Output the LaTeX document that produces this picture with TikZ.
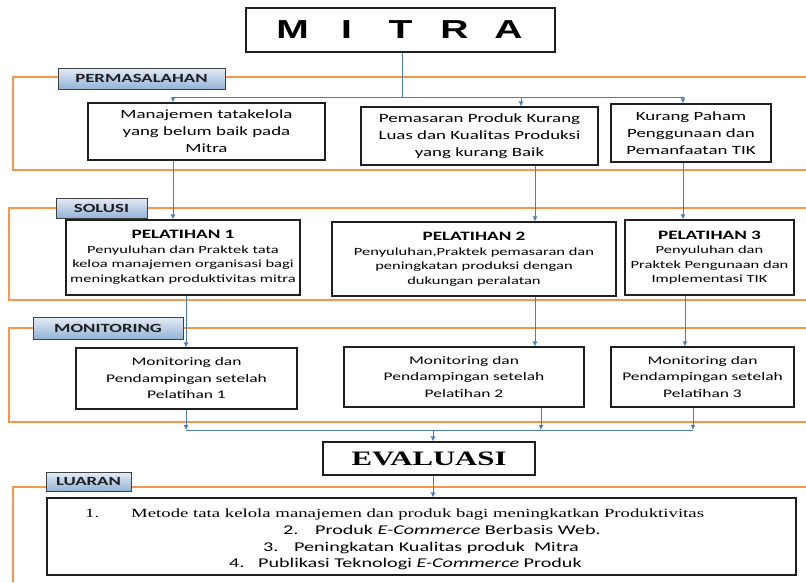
\documentclass[tikz,border=0pt]{standalone}
\usepackage{fontspec}
\setmainfont{Carlito}[FakeStretch=1.5]
\newfontfamily\serifw{Liberation Serif}[FakeStretch=1.5]
\newfontfamily\sansw{Liberation Sans}[FakeStretch=1.5]
\usetikzlibrary{arrows.meta,shadows}
\definecolor{orng}{HTML}{F79646}
\definecolor{bl}{HTML}{4A7EBB}
\definecolor{bx}{HTML}{1F1F1F}
\definecolor{lbtop}{HTML}{E4ECF6}
\definecolor{lbbot}{HTML}{94B2D6}
\begin{document}
\begin{tikzpicture}[x=1pt,y=-1pt,
  frame/.style={draw=orng,line width=1.2pt},
  box/.style={draw=bx,line width=1.2pt,fill=white,inner sep=0pt,align=center},
  lab/.style={draw=bx!85,line width=0.9pt,top color=lbtop,bottom color=lbbot,inner sep=0pt,
    font=\bfseries\fontsize{12.5}{14}\selectfont,text=bx,
    drop shadow={shadow xshift=1.3pt,shadow yshift=-1.3pt,opacity=0.4,fill=black}},
  ptxt/.style={font=\fontsize{12.6}{17}\selectfont},
  stxt/.style={font=\fontsize{11}{14.5}\selectfont},
  mtxt/.style={font=\fontsize{11.6}{16.5}\selectfont},
  link/.style={draw=bl,line width=1pt},
  arr/.style={link,-{Latex[length=5pt,width=5pt]}}
]
\useasboundingbox[fill=white] (0,0) rectangle (806,582);

% orange frames
\draw[frame] (806,77) -- (13,77) -- (13,170) -- (806,170);
\draw[frame] (806,208) -- (9,208) -- (9,300) -- (806,300);
\draw[frame] (806,328) -- (9,328) -- (9,422) -- (806,422);
\draw[frame] (806,487) -- (13,487) -- (13,582);

% top
\node[box,minimum width=309pt,minimum height=44pt] (mitra) at (400.5,30)
  {\sansw\bfseries\fontsize{26}{30}\selectfont\makebox[54pt]{M}\makebox[54pt]{I}\makebox[54pt]{T}\makebox[54pt]{R}\makebox[54pt]{A}};

% permasalahan
\node[box,ptxt,minimum width=237pt,minimum height=57pt] (p1) at (206.5,131.5)
  {Manajemen tatakelola\\yang belum baik pada\\Mitra};
\node[box,ptxt,minimum width=237pt,minimum height=58pt] (p2) at (479.5,136)
  {Pemasaran Produk Kurang\\Luas dan Kualitas Produksi\\yang kurang Baik};
\node[box,ptxt,minimum width=160pt,minimum height=58pt] (p3) at (691,133)
  {Kurang Paham\\Penggunaan dan\\Pemanfaatan TIK};

% solusi
\node[box,stxt,minimum width=234pt,minimum height=75pt] (pl1) at (183,257.5)
  {{\bfseries\fontsize{12.8}{15}\selectfont PELATIHAN 1}\\Penyuluhan dan Praktek tata\\keloa manajemen organisasi bagi\\meningkatkan produktivitas mitra};
\node[box,stxt,minimum width=284pt,minimum height=74pt] (pl2) at (474,259)
  {{\bfseries\fontsize{12.8}{15}\selectfont PELATIHAN 2}\\Penyuluhan,Praktek pemasaran dan\\peningkatan produksi dengan\\dukungan peralatan};
\node[box,stxt,minimum width=169pt,minimum height=75pt] (pl3) at (709.5,257.5)
  {{\bfseries\fontsize{12.8}{15}\selectfont PELATIHAN 3}\\Penyuluhan dan\\Praktek Pengunaan dan\\Implementasi TIK};

% monitoring
\node[box,mtxt,minimum width=221pt,minimum height=61pt] (m1) at (186.5,378.5)
  {Monitoring dan\\Pendampingan setelah\\Pelatihan 1};
\node[box,mtxt,minimum width=240pt,minimum height=60pt] (m2) at (464,377)
  {Monitoring dan\\Pendampingan setelah\\Pelatihan 2};
\node[box,mtxt,minimum width=183pt,minimum height=60pt] (m3) at (702.5,377)
  {Monitoring dan\\Pendampingan setelah\\Pelatihan 3};

% evaluasi
\node[box,minimum width=212pt,minimum height=33pt] (eval) at (429,458.5)
  {\serifw\bfseries\fontsize{20.5}{24}\selectfont EVALUASI};

% luaran
\node[box,minimum width=749pt,minimum height=77pt] (luaran) at (421.5,536.5) {};
\node[anchor=base west,inner sep=0pt,font=\serifw\fontsize{12.5}{14}\selectfont] (l1) at (85,517)
  {\makebox[46pt][l]{1.}Metode tata kelola manajemen dan produk bagi meningkatkan Produktivitas};
\node[anchor=base west,inner sep=0pt,font=\fontsize{13.4}{15}\selectfont] (l2) at (283,534)
  {\makebox[32pt][l]{2.}Produk \textit{E-Commerce} Berbasis Web.};
\node[anchor=base west,inner sep=0pt,font=\fontsize{13.4}{15}\selectfont] (l3) at (263,551)
  {\makebox[31pt][l]{3.}Peningkatan Kualitas produk\ \ Mitra};
\node[anchor=base west,inner sep=0pt,font=\fontsize{13.4}{15}\selectfont] (l4) at (229,567)
  {\makebox[29pt][l]{4.}Publikasi Teknologi \textit{E-Commerce} Produk};

% labels
\node[lab,minimum width=167pt,minimum height=21pt] (lperm) at (141.5,78.5) {PERMASALAHAN};
\node[lab,minimum width=91pt,minimum height=20pt] (lsol) at (101.5,208) {SOLUSI};
\node[lab,minimum width=150pt,minimum height=22pt] (lmon) at (108,328) {MONITORING};
\node[lab,minimum width=85pt,minimum height=19pt] (llua) at (88.5,481.5) {LUARAN};

% connectors
\coordinate (mj) at (402,97);
\coordinate (xa) at (173,0);
\coordinate (xb) at (521,0);
\coordinate (xc) at (683,0);
\coordinate (xd) at (535,0);
\coordinate (xe) at (186,0);
\coordinate (xf) at (685,0);
\coordinate (xg) at (541,0);
\coordinate (xh) at (693,0);
\coordinate (bus) at (433,430);

\draw[link] (mitra.south -| mj) -- (mj);
\draw[arr] (mj) -| (p1.north -| xa);
\draw[arr] (mj) -| (p2.north -| xb);
\draw[arr] (mj) -| (p3.north -| xc);

\draw[arr] (p1.south -| xa) -- (pl1.north -| xa);
\draw[arr] (p2.south -| xd) -- (pl2.north -| xd);
\draw[arr] (p3.south -| xc) -- (pl3.north -| xc);

\draw[arr] (pl1.south -| xe) -- (m1.north -| xe);
\draw[arr] (pl2.south -| xd) -- (m2.north -| xd);
\draw[arr] (pl3.south -| xf) -- (m3.north -| xf);

\draw[arr] (m1.south -| xe) -- (bus -| xe);
\draw[arr] (m2.south -| xg) -- (bus -| xg);
\draw[arr] (m3.south -| xh) -- (bus -| xh);
\draw[link] (bus -| xe) -- (bus -| xh);
\draw[arr] (bus) -- (eval.north -| bus);
\draw[arr] (eval.south -| bus) -- (luaran.north -| bus);
\end{tikzpicture}
\end{document}
